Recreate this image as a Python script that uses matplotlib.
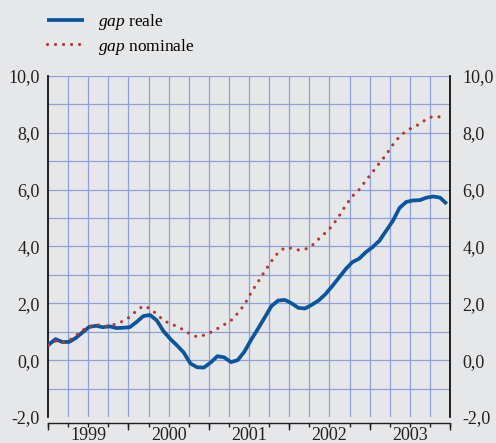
import numpy as np
import matplotlib
matplotlib.use("Agg")
import matplotlib.pyplot as plt
from matplotlib.ticker import FuncFormatter, FixedLocator

# gap reale / gap nominale, dati mensili gen 1999 - dic 2003
gap_reale = [0.55, 0.74, 0.64, 0.64, 0.78, 0.98, 1.17, 1.21, 1.16, 1.19, 1.13, 1.14,
             1.16, 1.34, 1.55, 1.59, 1.40, 1.02, 0.75, 0.52, 0.27, -0.12, -0.25, -0.26,
             -0.08, 0.14, 0.10, -0.07, 0.00, 0.30, 0.72, 1.10, 1.50, 1.90, 2.10, 2.12,
             2.00, 1.84, 1.82, 1.95, 2.10, 2.32, 2.60, 2.90, 3.20, 3.45, 3.57, 3.80,
             3.98, 4.20, 4.55, 4.90, 5.36, 5.57, 5.62, 5.63, 5.72, 5.76, 5.72, 5.50]
gap_nominale = [0.52, 0.67, 0.62, 0.69, 0.86, 1.05, 1.18, 1.26, 1.20, 1.20, 1.28, 1.37,
                1.52, 1.74, 1.91, 1.82, 1.62, 1.40, 1.28, 1.19, 1.06, 0.91, 0.82, 0.88,
                0.98, 1.11, 1.25, 1.39, 1.65, 1.95, 2.38, 2.75, 3.12, 3.48, 3.79, 3.96,
                3.94, 3.88, 3.90, 4.03, 4.26, 4.48, 4.72, 5.06, 5.44, 5.77, 6.00, 6.32,
                6.62, 6.93, 7.23, 7.58, 7.87, 8.07, 8.20, 8.31, 8.49, 8.58, 8.56, 8.50]
anni = [1999, 2000, 2001, 2002, 2003]

x = np.linspace(1999.01, 2003.96, len(gap_reale))

bg = '#e6e7e9'
ink = '#231f20'
plt.rcParams['font.family'] = ['Liberation Serif', 'DejaVu Serif']
plt.rcParams['mathtext.fontset'] = 'custom'
plt.rcParams['mathtext.rm'] = 'Liberation Serif'
plt.rcParams['mathtext.it'] = 'Liberation Serif:italic'

fig = plt.figure(figsize=(4.96, 4.43), dpi=100, facecolor=bg)
ax = fig.add_axes([48/496, 1-417/443, 402/496, 341/443], facecolor=bg)

l1, = ax.plot(x, gap_reale, color='#0a559f', lw=2.7, solid_capstyle='butt', zorder=3)
l2, = ax.plot(x, gap_nominale, color='#b5392f', lw=2.3, linestyle=(0, (0.01, 2.5)),
              dash_capstyle='round', zorder=3)

ax.set_xlim(1999, 2004)
ax.set_ylim(-2, 10)

# griglia
qtr = np.arange(1999, 2004.01, 0.25)
ax.set_xticks(np.array(anni) + 0.5)
ax.set_xticklabels([str(a) for a in anni])
ax.xaxis.set_minor_locator(FixedLocator(qtr))
ax.xaxis.remove_overlapping_locs = False
ax.set_yticks(np.arange(-2, 10.1, 2))
for q in qtr[1:-1]:
    ax.axvline(q, color='#8fa0d8', lw=0.9, zorder=1)
for v in np.arange(-1, 10.1, 1):
    ax.axhline(v, color='#8fa0d8', lw=0.9, zorder=1)

fmt = FuncFormatter(lambda v, p: ('%.1f' % v).replace('.', ','))
ax.yaxis.set_major_formatter(fmt)
ax.tick_params(axis='y', which='both', length=0, labelsize=13, pad=6, labelcolor=ink)
ax.tick_params(axis='x', which='major', length=0, labelsize=13, pad=3, labelcolor=ink)
ax.tick_params(axis='x', which='minor', length=3, width=1, direction='out', color=ink)

secy = ax.secondary_yaxis('right')
secy.set_yticks(np.arange(-2, 10.1, 2))
secy.yaxis.set_major_formatter(fmt)
secy.tick_params(length=0, labelsize=13, pad=9, labelcolor=ink)
secy.spines['right'].set_visible(False)

ax.spines['top'].set_visible(False)
ax.spines['left'].set_color('#111111')
ax.spines['left'].set_linewidth(1.3)
ax.spines['right'].set_color('#111111')
ax.spines['right'].set_linewidth(1.3)
ax.spines['bottom'].set_position(('outward', 4))
ax.spines['bottom'].set_linewidth(1.0)
ax.spines['bottom'].set_color(ink)

sec = ax.secondary_xaxis('bottom')
sec.spines['bottom'].set_position(('outward', 4))
sec.spines['bottom'].set_visible(False)
sec.set_xticks(np.arange(1999, 2004.01, 1))
sec.tick_params(length=5, width=1, color=ink, labelbottom=False)

fig.legend([l1, l2], [r'$\mathit{gap}$ reale', r'$\mathit{gap}$ nominale'],
           loc='upper left', bbox_to_anchor=(42/496, 1-7/443), frameon=False,
           fontsize=12.5, handlelength=2.1, handletextpad=0.8, labelspacing=0.25,
           borderaxespad=0, borderpad=0.3)

fig.savefig('out.png', dpi=100, facecolor=bg)
